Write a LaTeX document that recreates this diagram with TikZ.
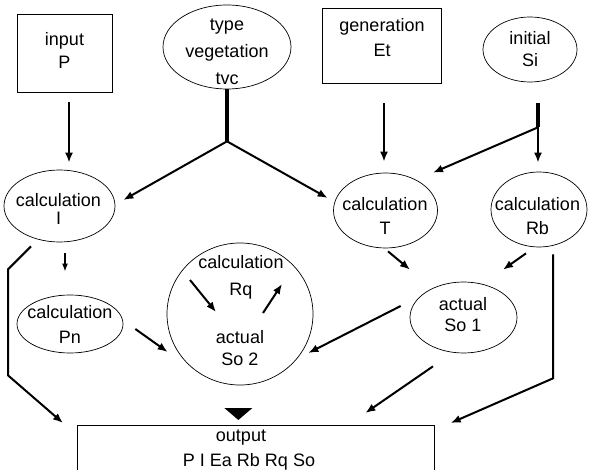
\documentclass[tikz,border=0pt]{standalone}
\usepackage{fontspec}
\setmainfont{Liberation Sans}
\usetikzlibrary{shapes.geometric,arrows.meta,calc}
\begin{document}
\begin{tikzpicture}[x=1pt,y=-1pt,
  txt/.style={align=center, inner sep=0pt, font=\fontsize{18}{23}\selectfont},
  ell/.style={ellipse, draw, line width=0.7pt, inner sep=0pt},
  boxn/.style={rectangle, draw, line width=0.7pt, inner sep=0pt},
  arr/.style={draw, line width=2pt, -{Latex[length=10pt,width=8pt]}},
  stub/.style={draw, line width=3.5pt}
]
\useasboundingbox (0,0) rectangle (589,470);

% shapes
\node[boxn, minimum width=95pt, minimum height=78pt] (inp) at (64.5,53) {};
\node[ell, minimum width=128pt, minimum height=84pt] (tvc) at (227,47) {};
\node[boxn, minimum width=119pt, minimum height=75pt] (gen) at (381.5,45.5) {};
\node[ell, minimum width=94pt, minimum height=65pt] (si) at (530,49.5) {};
\node[ell, minimum width=111pt, minimum height=72pt] (I) at (59.5,206) {};
\node[ell, minimum width=104pt, minimum height=75pt] (T) at (385.5,210.5) {};
\node[ell, minimum width=96pt, minimum height=75pt] (Rb) at (539,209.5) {};
\node[ell, minimum width=106pt, minimum height=58pt] (Pn) at (70,324) {};
\node[ell, minimum width=146pt, minimum height=142pt] (so2) at (240,314) {};
\node[ell, minimum width=107pt, minimum height=71pt] (so1) at (463.5,317.5) {};
\node[boxn, minimum width=357pt, minimum height=48pt, anchor=north west] (out) at (77,425) {};

% texts
\node[txt] (inpt) at (64.5,50.5) {input\\P};
\node[txt, font=\fontsize{18}{27}\selectfont] (tvct) at (227,52) {type\\vegetation\\tvc};
\node[txt, font=\fontsize{18}{25}\selectfont] (gent) at (382,38) {generation\\Et};
\node[txt, font=\fontsize{18}{22}\selectfont] (sit) at (530,49.5) {initial\\Si};
\node[txt, font=\fontsize{18}{18}\selectfont] (It) at (58.5,208.5) {calculation\\I};
\node[txt, font=\fontsize{18}{24}\selectfont] (Tt) at (385,216) {calculation\\T};
\node[txt, font=\fontsize{18}{24}\selectfont] (Rbt) at (537.5,216) {calculation\\Rb};
\node[txt, font=\fontsize{18}{25}\selectfont] (Pnt) at (70,324) {calculation\\Pn};
\node[txt, font=\fontsize{18}{27}\selectfont] (so2a) at (241,277) {calculation\\Rq};
\node[txt, font=\fontsize{18}{22}\selectfont] (so2b) at (240,348) {actual\\So 2};
\node[txt, font=\fontsize{18}{21}\selectfont] (so1t) at (463,315) {actual\\So 1};
\node[txt, anchor=base] (outa) at (241,441) {output};
\node[txt, anchor=base] (outb) at (249,466) {P I Ea Rb Rq So};

% junctions
\coordinate (j1) at ($(tvc.south)+(0,52)$);
\coordinate (j2) at ($(si.south)+(8,45)$);

% connectors
\draw[arr] ([shift={(4.5,10)}]inp.south) -- ([shift={(9.5,-7)}]I.north);
\draw[stub] (tvc.south) -- (j1);
\draw[arr] (j1) -- ([shift={(8,-6)}]I.east);
\draw[arr] (j1) -- ([shift={(-5.5,-12.5)}]T.west);
\draw[arr] ([shift={(2.5,20)}]gen.south) -- ([shift={(-1.5,-11)}]T.north);
\draw[stub] ([shift={(8,21)}]si.south) -- (j2);
\draw[arr] (j2) -- ([shift={(-1,-9)}]Rb.north);
\draw[arr] (j2) -- ([shift={(47.5,0)}]T.north);
\draw[arr] ([shift={(2.5,3)}]T.south) -- ([shift={(-53.5,-12)}]so1.north);
\draw[arr] ([shift={(-13,6)}]Rb.south) -- ([shift={(39.5,-12)}]so1.north);
\draw[arr] ([shift={(-9,-11.5)}]so1.west) -- ([shift={(-5,39)}]so2.east);
\draw[arr] ([shift={(-30.5,13)}]so1.south) -- ([shift={(109.5,-12)}]out.north);
\draw[arr] ([shift={(14,7)}]Rb.south) -- ++(0,124) -- ([shift={(16,-2)}]out.north east);
\draw[arr] ([shift={(-28.5,4)}]I.south) -- ++(-23,23) -- ++(0,106) -- ([shift={(-14,-2)}]out.north west);
\draw[arr, line width=1.5pt, -{Latex[length=8pt,width=6pt]}] ([shift={(5.5,11)}]I.south) -- ([shift={(-5,-23)}]Pn.north);
\draw[arr] ([shift={(12,5)}]Pn.east) -- ([shift={(1,38)}]so2.west);
\draw[arr] ([shift={(-50,-34)}]so2.center) -- ([shift={(-24,-2)}]so2.center);
\draw[arr] ([shift={(23,-1)}]so2.center) -- ([shift={(42,-30)}]so2.center);
\fill ([shift={(-31.5,-17)}]out.north) -- ([shift={(-3.5,-17)}]out.north) -- ([shift={(-17.5,-5)}]out.north) -- cycle;
\end{tikzpicture}
\end{document}
